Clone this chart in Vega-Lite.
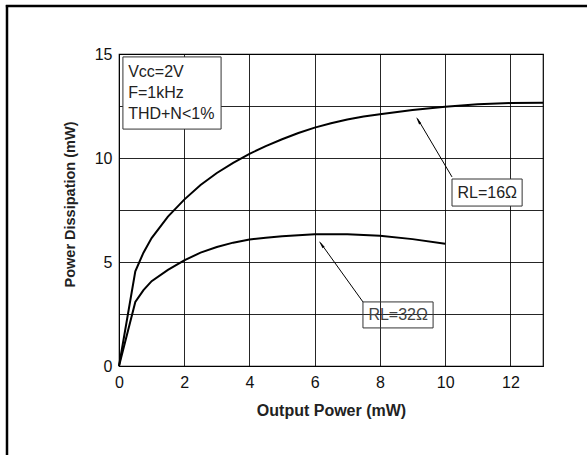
{
  "$schema": "https://vega.github.io/schema/vega-lite/v6.json",
  "autosize": {"type": "none"},
  "padding": {"left": 119, "top": 54, "right": 44, "bottom": 89},
  "width": 424,
  "height": 312,
  "background": "white",
  "config": {
    "view": {"stroke": "#000", "strokeWidth": 1.2},
    "font": "Liberation Sans",
    "axis": {
      "labelFont": "Liberation Sans",
      "labelFontSize": 16,
      "labelColor": "#111",
      "titleFont": "Liberation Sans",
      "titleFontSize": 16,
      "titleFontWeight": "bold",
      "titleColor": "#222",
      "gridColor": "#000",
      "gridOpacity": 0.85,
      "gridWidth": 1,
      "domain": false,
      "ticks": false
    }
  },
  "data": {
    "values": [
      {"series": "RL=16", "p": 0, "d": 0},
      {"series": "RL=16", "p": 0.5, "d": 4.55},
      {"series": "RL=16", "p": 0.75, "d": 5.45},
      {"series": "RL=16", "p": 1, "d": 6.15},
      {"series": "RL=16", "p": 1.5, "d": 7.18},
      {"series": "RL=16", "p": 2, "d": 8.0},
      {"series": "RL=16", "p": 2.5, "d": 8.7},
      {"series": "RL=16", "p": 3, "d": 9.28},
      {"series": "RL=16", "p": 3.5, "d": 9.77},
      {"series": "RL=16", "p": 4, "d": 10.2},
      {"series": "RL=16", "p": 4.5, "d": 10.57},
      {"series": "RL=16", "p": 5, "d": 10.9},
      {"series": "RL=16", "p": 5.5, "d": 11.2},
      {"series": "RL=16", "p": 6, "d": 11.46},
      {"series": "RL=16", "p": 6.5, "d": 11.67},
      {"series": "RL=16", "p": 7, "d": 11.85},
      {"series": "RL=16", "p": 7.5, "d": 11.99},
      {"series": "RL=16", "p": 8, "d": 12.1},
      {"series": "RL=16", "p": 9, "d": 12.31},
      {"series": "RL=16", "p": 10, "d": 12.46},
      {"series": "RL=16", "p": 11, "d": 12.58},
      {"series": "RL=16", "p": 12, "d": 12.64},
      {"series": "RL=16", "p": 13, "d": 12.66},
      {"series": "RL=32", "p": 0, "d": 0},
      {"series": "RL=32", "p": 0.5, "d": 3.08},
      {"series": "RL=32", "p": 0.75, "d": 3.65},
      {"series": "RL=32", "p": 1, "d": 4.08},
      {"series": "RL=32", "p": 1.5, "d": 4.62},
      {"series": "RL=32", "p": 2, "d": 5.08},
      {"series": "RL=32", "p": 2.5, "d": 5.45},
      {"series": "RL=32", "p": 3, "d": 5.72},
      {"series": "RL=32", "p": 3.5, "d": 5.93},
      {"series": "RL=32", "p": 4, "d": 6.08},
      {"series": "RL=32", "p": 4.5, "d": 6.17},
      {"series": "RL=32", "p": 5, "d": 6.24},
      {"series": "RL=32", "p": 6, "d": 6.33},
      {"series": "RL=32", "p": 7, "d": 6.34},
      {"series": "RL=32", "p": 8, "d": 6.26},
      {"series": "RL=32", "p": 9, "d": 6.1},
      {"series": "RL=32", "p": 10, "d": 5.88}
    ]
  },
  "layer": [
    {
      "mark": {"type": "line", "color": "#000", "strokeWidth": 2, "interpolate": "linear"},
      "encoding": {
        "x": {
          "field": "p", "type": "quantitative",
          "scale": {"domain": [0, 13], "nice": false},
          "axis": {
            "title": "Output Power (mW)",
            "values": [0,1,2,3,4,5,6,7,8,9,10,11,12,13],
            "labelExpr": "datum.value % 2 === 0 ? datum.label : ''",
            "labelPadding": 8,
            "labelFlush": false,
            "titleX": 212, "titleY": 44, "titleBaseline": "middle", "titleAnchor": "middle"
          }
        },
        "y": {
          "field": "d", "type": "quantitative",
          "scale": {"domain": [0, 15], "nice": false},
          "axis": {
            "title": "Power Dissipation (mW)",
            "values": [0, 2.5, 5, 7.5, 10, 12.5, 15],
            "labelExpr": "datum.value % 5 === 0 ? datum.label : ''",
            "labelPadding": 7,
            "labelFlush": false,
            "titleFontSize": 14.5,
            "titleX": -49, "titleY": 150, "titleBaseline": "middle", "titleAngle": -90
          }
        },
        "detail": {"field": "series"}
      }
    },
    {
      "data": {"values": [{}]},
      "mark": {"type": "rect", "fill": "white", "stroke": "#333", "strokeWidth": 1},
      "encoding": {
        "x": {"datum": 0.12}, "x2": {"datum": 3.13},
        "y": {"datum": 14.86}, "y2": {"datum": 11.39}
      }
    },
    {
      "data": {"values": [{}]},
      "mark": {"type": "text", "align": "left", "baseline": "middle", "fontSize": 16, "lineHeight": 21, "color": "#222", "font": "Liberation Sans"},
      "encoding": {
        "x": {"datum": 0.28}, "y": {"datum": 14.13},
        "text": {"value": ["Vcc=2V", "F=1kHz", "THD+N<1%"]}
      }
    },
    {
      "data": {"values": [{}]},
      "mark": {"type": "rule", "color": "#000", "strokeWidth": 1},
      "encoding": {
        "x": {"datum": 10.21}, "y": {"datum": 9.09},
        "x2": {"datum": 9.15}, "y2": {"datum": 11.9}
      }
    },
    {
      "data": {"values": [{}]},
      "mark": {"type": "point", "shape": "M0,0L-0.4,2.5L0.4,2.5Z", "filled": true, "color": "#000", "size": 40, "angle": 329, "opacity": 1},
      "encoding": {"x": {"datum": 9.11}, "y": {"datum": 11.97}}
    },
    {
      "data": {"values": [{}]},
      "mark": {"type": "rect", "fill": "white", "stroke": "#333", "strokeWidth": 1},
      "encoding": {
        "x": {"datum": 10.21}, "x2": {"datum": 12.36},
        "y": {"datum": 8.99}, "y2": {"datum": 7.69}
      }
    },
    {
      "data": {"values": [{}]},
      "mark": {"type": "text", "align": "center", "baseline": "middle", "fontSize": 16, "color": "#222", "font": "Liberation Sans"},
      "encoding": {"x": {"datum": 11.29}, "y": {"datum": 8.34}, "text": {"value": "RL=16Ω"}}
    },
    {
      "data": {"values": [{}]},
      "mark": {"type": "rule", "color": "#000", "strokeWidth": 1},
      "encoding": {
        "x": {"datum": 7.48}, "y": {"datum": 3.08},
        "x2": {"datum": 6.17}, "y2": {"datum": 5.94}
      }
    },
    {
      "data": {"values": [{}]},
      "mark": {"type": "point", "shape": "M0,0L-0.4,2.5L0.4,2.5Z", "filled": true, "color": "#000", "size": 40, "angle": 324, "opacity": 1},
      "encoding": {"x": {"datum": 6.13}, "y": {"datum": 6.01}}
    },
    {
      "data": {"values": [{}]},
      "mark": {"type": "rect", "fill": "white", "fillOpacity": 0, "stroke": "#333", "strokeWidth": 1},
      "encoding": {
        "x": {"datum": 7.48}, "x2": {"datum": 9.63},
        "y": {"datum": 3.08}, "y2": {"datum": 1.83}
      }
    },
    {
      "data": {"values": [{}]},
      "mark": {"type": "text", "align": "center", "baseline": "middle", "fontSize": 16, "color": "#444", "font": "Liberation Sans"},
      "encoding": {"x": {"datum": 8.56}, "y": {"datum": 2.45}, "text": {"value": "RL=32Ω"}}
    },
    {
      "data": {"values": [{}]},
      "mark": {"type": "rule", "color": "#000", "strokeWidth": 2.5, "clip": false},
      "encoding": {
        "x": {"datum": -3.434}, "y": {"datum": 17.36},
        "y2": {"datum": -5}
      }
    },
    {
      "data": {"values": [{}]},
      "mark": {"type": "rule", "color": "#000", "strokeWidth": 2.5, "clip": false},
      "encoding": {
        "y": {"datum": 17.31}, "x": {"datum": -3.47},
        "x2": {"datum": 15}
      }
    }
  ]
}
